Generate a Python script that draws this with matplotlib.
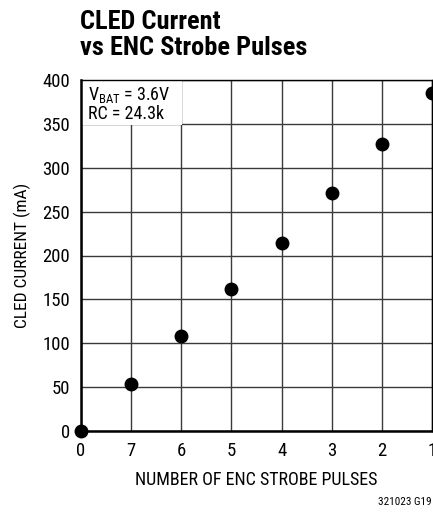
import matplotlib
matplotlib.use('Agg')
import matplotlib.pyplot as plt
from matplotlib.patches import Rectangle
from matplotlib import font_manager

# data
pulse_labels = ['0', '7', '6', '5', '4', '3', '2', '1']
cled_current = [0, 53, 108, 162, 214, 271, 327, 385]
y_ticks = [0, 50, 100, 150, 200, 250, 300, 350, 400]

names = set(f.name for f in font_manager.fontManager.ttflist)
if 'Liberation Sans Narrow' in names:
    fam = ['Liberation Sans Narrow', 'DejaVu Sans']
else:
    fam = ['Roboto Condensed', 'Liberation Sans', 'DejaVu Sans']
plt.rcParams['font.family'] = fam
plt.rcParams['mathtext.fontset'] = 'custom'
plt.rcParams['mathtext.rm'] = fam[0]

W, H = 433, 514
fig = plt.figure(figsize=(W / 100, H / 100), dpi=100)
ax = fig.add_axes([81 / W, 1 - 431 / H, 351 / W, 351 / H])

x = list(range(len(pulse_labels)))
ax.plot(x, cled_current, 'o', color='black', markersize=9, clip_on=False, zorder=5)

ax.set_xlim(0, 7)
ax.set_ylim(0, 400)
ax.set_xticks(x)
ax.set_xticklabels(pulse_labels)
ax.set_yticks(y_ticks)
ax.tick_params(length=0, labelsize=13.5, colors='black')
ax.tick_params(axis='x', pad=8)
ax.tick_params(axis='y', pad=8)
ax.grid(True, color='#3a3a3a', linewidth=1)
ax.set_axisbelow(True)

for s in ['left', 'bottom']:
    ax.spines[s].set_linewidth(1.8)
for s in ['top', 'right']:
    ax.spines[s].set_linewidth(1.0)

ax.set_xlabel('NUMBER OF ENC STROBE PULSES', fontsize=13, labelpad=8)
ax.set_ylabel('CLED CURRENT (mA)', fontsize=12.5, labelpad=8)

# white box behind the conditions text
ax.add_patch(Rectangle((0, (431 - 125) / 351), (182 - 81) / 351, 1,
                       transform=ax.transAxes, facecolor='white',
                       edgecolor='none', zorder=2))
ax.text(0.02, 0.985, 'V$_{\\mathregular{BAT}}$ = 3.6V\nRC = 24.3k',
        transform=ax.transAxes, ha='left', va='top', fontsize=13,
        linespacing=1.0, zorder=3)

fig.text(80 / W, 1 - 10 / H, 'CLED Current\nvs ENC Strobe Pulses',
         ha='left', va='top', fontsize=19, fontweight='bold', linespacing=1.1)
fig.text(431 / W, 1 - 505 / H, '321023 G19', ha='right', va='baseline', fontsize=8)

fig.savefig('out.png', dpi=100)
